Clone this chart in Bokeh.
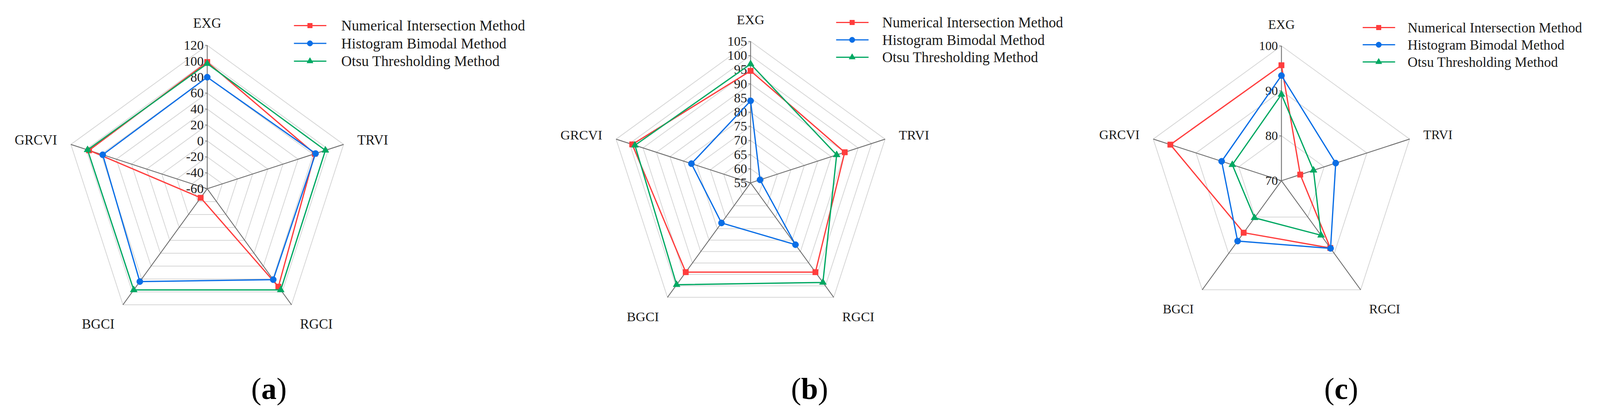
import math
from bokeh.plotting import figure
from bokeh.models import Range1d
from bokeh.core.properties import value
from bokeh.embed import file_html
from bokeh.resources import INLINE

# ---------------- data ----------------
categories = ["EXG", "TRVI", "RGCI", "BGCI", "GRCVI"]
series_names = ["Numerical Intersection Method", "Histogram Bimodal Method", "Otsu Thresholding Method"]

a_numerical = [99, 82, 92, -46, 96]
a_histogram = [80, 83, 81, 84, 78]
a_otsu = [97, 96, 97, 97, 98]

b_numerical = [94.6, 90, 94, 94, 99]
b_histogram = [84, 58.5, 82, 72.5, 77]
b_otsu = [97, 87, 98.5, 99.5, 98]

c_numerical = [95.7, 74.4, 88.5, 84.3, 96]
c_histogram = [93.4, 82.7, 88.6, 86.6, 84]
c_otsu = [89.2, 77.5, 85, 80.2, 81.5]

ticks_a = [-60, -40, -20, 0, 20, 40, 60, 80, 100, 120]
ticks_b = [55, 60, 65, 70, 75, 80, 85, 90, 95, 100, 105]
ticks_c = [70, 80, 90, 100]

panel_letters = ["a", "b", "c"]

# ---------------- style / layout ----------------
colors = ["#FF3D3D", "#0A6EE6", "#00A862"]
markers = ["square", "circle", "triangle"]
marker_sizes = [14, 16, 18]
FONT = value("Liberation Serif")
TXT = "#1a1a1a"
SPOKE = "#6e6e6e"
RING = "#d6d6d6"

panels = [
    dict(cx=538, cy=490.5, R=367, ticks=ticks_a, data=[a_numerical, a_histogram, a_otsu],
         leg_x=760, leg_y=73, leg_dy=45.5, leg_tx=121, lab_x=696, s=1.0),
    dict(cx=1929, cy=475.5, R=362, ticks=ticks_b, data=[b_numerical, b_histogram, b_otsu],
         leg_x=2148, leg_y=65, leg_dy=44.5, leg_tx=118, lab_x=2080, s=0.985),
    dict(cx=3288, cy=470, R=345, ticks=ticks_c, data=[c_numerical, c_histogram, c_otsu],
         leg_x=3496, leg_y=78, leg_dy=44.0, leg_tx=115, lab_x=3441, s=0.95),
]

W, H = 4087, 1046
p = figure(width=W, height=H, x_range=Range1d(8, 8 + W), y_range=Range1d(8 + H, 8),
           output_backend="svg", toolbar_location=None, min_border=0,
           x_axis_location=None, y_axis_location=None)
p.grid.visible = False
p.outline_line_color = None
p.background_fill_color = "white"
p.border_fill_color = "white"


def pos(pn, v, i):
    vmin, vmax = pn["ticks"][0], pn["ticks"][-1]
    r = (v - vmin) / (vmax - vmin) * pn["R"]
    th = math.radians(90 - 72 * i)
    return pn["cx"] + r * math.cos(th), pn["cy"] - r * math.sin(th)


for k, pn in enumerate(panels):
    cx, cy, R, s = pn["cx"], pn["cy"], pn["R"], pn["s"]
    ticks = pn["ticks"]
    n = len(categories)

    # rings
    rx, ry = [], []
    for t in ticks[1:]:
        pts = [pos(pn, t, i) for i in range(n)] + [pos(pn, t, 0)]
        rx.append([q[0] for q in pts])
        ry.append([q[1] for q in pts])
    p.multi_line(rx, ry, line_color=RING, line_width=2)

    # spokes
    outer = [pos(pn, ticks[-1], i) for i in range(n)]
    p.segment(x0=[cx] * n, y0=[cy] * n, x1=[q[0] for q in outer], y1=[q[1] for q in outer],
              line_color=SPOKE, line_width=2.2)

    # tick marks + labels on EXG axis
    tpos = [pos(pn, t, 0) for t in ticks]
    p.segment(x0=[cx - 6] * len(ticks), y0=[q[1] for q in tpos], x1=[cx] * len(ticks),
              y1=[q[1] for q in tpos], line_color=SPOKE, line_width=1.5)
    p.text(x=[cx - 9] * len(ticks), y=[q[1] for q in tpos], text=[str(t) for t in ticks],
           text_font=FONT, text_font_size=f"{34 * s:.1f}px", text_align="right",
           text_baseline="middle", text_color=TXT)

    # category labels
    d = 37
    aligns = [("center", "bottom"), ("left", "middle"), ("left", "top"), ("right", "top"), ("right", "middle")]
    for i, cat in enumerate(categories):
        th = math.radians(90 - 72 * i)
        lx = cx + (R + d) * math.cos(th)
        ly = cy - (R + d) * math.sin(th)
        p.text(x=[lx], y=[ly], text=[cat], text_font=FONT, text_font_size=f"{35 * s:.1f}px",
               text_align=aligns[i][0], text_baseline=aligns[i][1], text_color=TXT)

    # series
    for j, vals in enumerate(pn["data"]):
        pts = [pos(pn, v, i) for i, v in enumerate(vals)]
        xs = [q[0] for q in pts] + [pts[0][0]]
        ys = [q[1] for q in pts] + [pts[0][1]]
        p.line(xs, ys, line_color=colors[j], line_width=3.2)
        p.scatter([q[0] for q in pts], [q[1] for q in pts], marker=markers[j], size=marker_sizes[j],
                  fill_color=colors[j], line_color=colors[j])

    # legend
    for j, name in enumerate(series_names):
        y = pn["leg_y"] + j * pn["leg_dy"]
        x0 = pn["leg_x"]
        p.segment(x0=[x0], y0=[y], x1=[x0 + 83], y1=[y], line_color=colors[j], line_width=3)
        p.scatter([x0 + 41], [y], marker=markers[j], size=marker_sizes[j] - 2,
                  fill_color=colors[j], line_color=colors[j])
        p.text(x=[x0 + pn["leg_tx"]], y=[y], text=[name], text_font=FONT,
               text_font_size=f"{37.5 * s:.1f}px", text_align="left", text_baseline="middle",
               text_color=TXT)

    # panel label (a)/(b)/(c)
    letter = panel_letters[k]
    half = {"a": 19.5, "b": 21.5, "c": 17.5}[letter]
    lx, ly = pn["lab_x"], 1002
    p.text(x=[lx - half], y=[ly], text=["("], text_font=FONT, text_font_size="78px",
           text_align="right", text_baseline="alphabetic", text_color="black")
    p.text(x=[lx], y=[ly], text=[letter], text_font=FONT, text_font_size="78px",
           text_font_style="bold", text_align="center", text_baseline="alphabetic", text_color="black")
    p.text(x=[lx + half], y=[ly], text=[")"], text_font=FONT, text_font_size="78px",
           text_align="left", text_baseline="alphabetic", text_color="black")

open("out.html", "w").write(file_html(p, INLINE))
